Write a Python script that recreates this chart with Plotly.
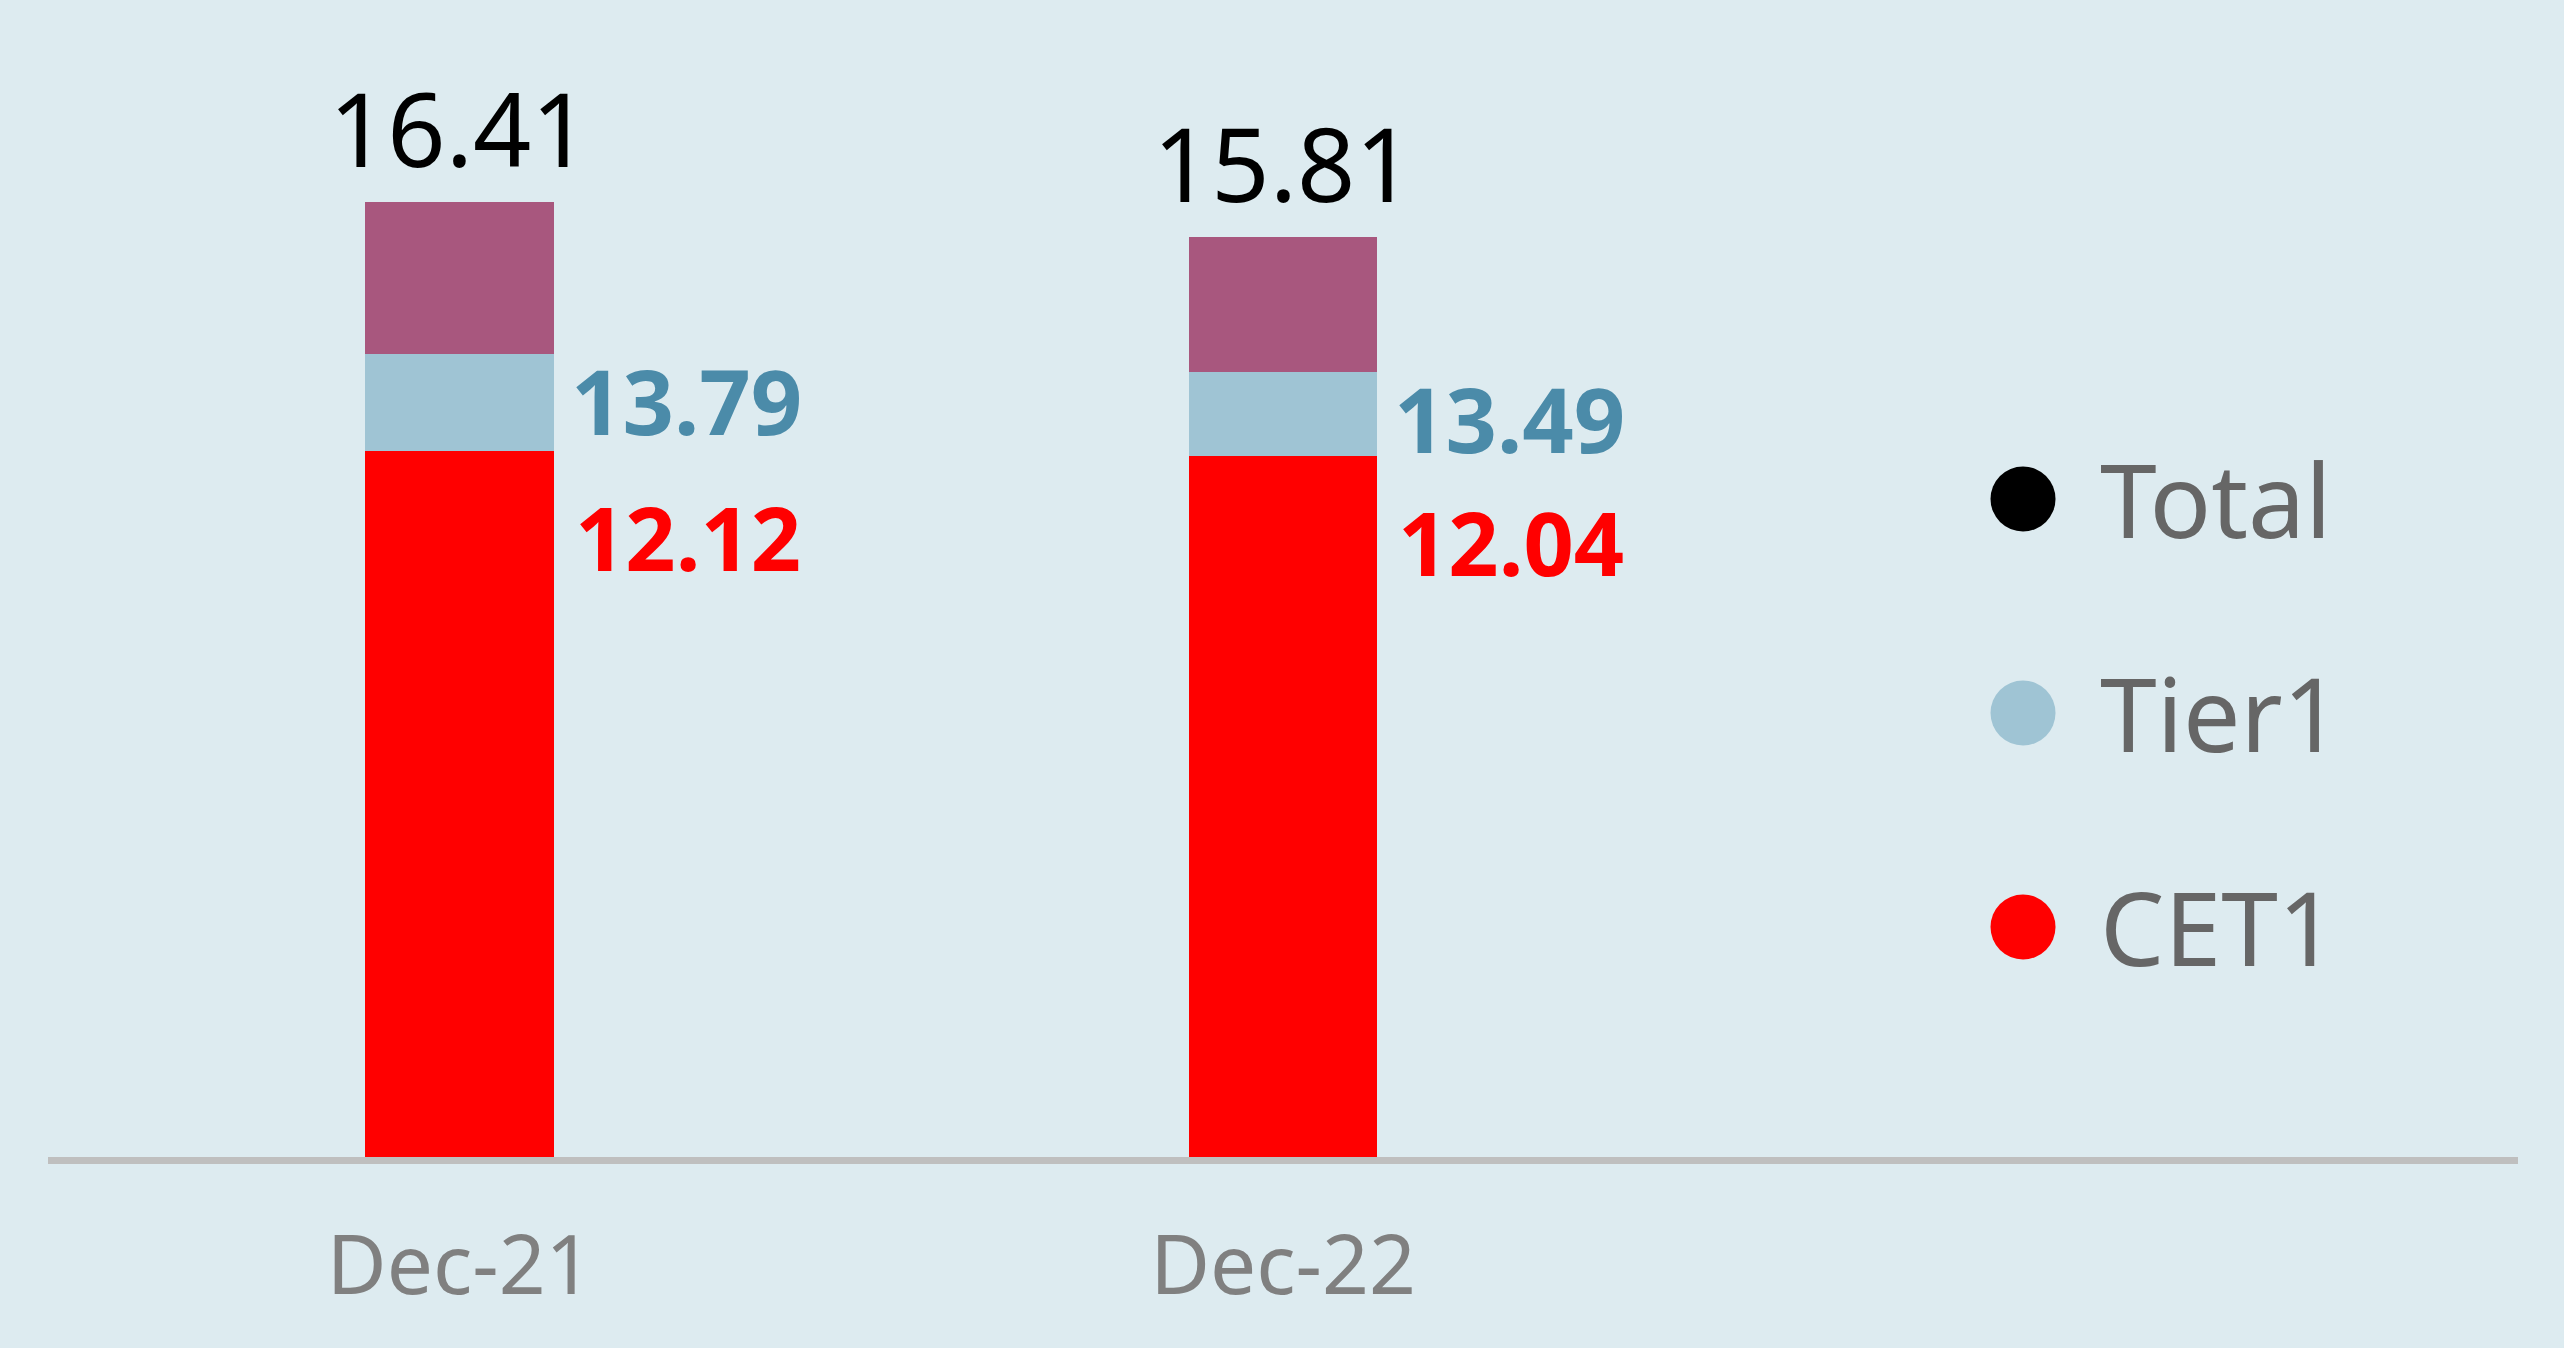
import plotly.graph_objects as go

# ---- data ----
categories = ["Dec-21", "Dec-22"]
cet1 = [12.12, 12.04]
tier1 = [13.79, 13.49]
total = [16.41, 15.81]
series_names = ["Total", "Tier1", "CET1"]

# ---- style ----
BG = "#ddebf0"
C_TOTAL = "#a8577e"
C_TIER1 = "#9fc4d4"
C_CET1 = "#ff0000"
C_TIER1_TXT = "#4b8ba9"
FONT = "Noto Sans"
BAR_W = 0.229

tier1_seg = [t - c for t, c in zip(tier1, cet1)]
total_seg = [t - t1 for t, t1 in zip(total, tier1)]

fig = go.Figure()
fig.add_bar(x=categories, y=cet1, marker_color=C_CET1, width=BAR_W, name="CET1",
            marker_line_width=0, showlegend=False, hoverinfo="skip")
fig.add_bar(x=categories, y=tier1_seg, marker_color=C_TIER1, width=BAR_W, name="Tier1",
            marker_line_width=0, showlegend=False, hoverinfo="skip")
fig.add_bar(x=categories, y=total_seg, marker_color=C_TOTAL, width=BAR_W, name="Total",
            marker_line_width=0, showlegend=False, hoverinfo="skip")

annotations = []
for i, cat in enumerate(categories):
    annotations.append(dict(x=cat, y=total[i], text=f"{total[i]:.2f}", showarrow=False,
                            xanchor="center", yanchor="bottom", yshift=3,
                            font=dict(family=FONT, size=102, color="#000000")))
    annotations.append(dict(x=cat, y=tier1[i], text=f"<b>{tier1[i]:.2f}</b>", showarrow=False,
                            xanchor="left", yanchor="middle", xshift=109, yshift=-46,
                            font=dict(family=FONT, size=90, color=C_TIER1_TXT)))
    annotations.append(dict(x=cat, y=cet1[i], text=f"<b>{cet1[i]:.2f}</b>", showarrow=False,
                            xanchor="left", yanchor="middle", xshift=113, yshift=-86,
                            font=dict(family=FONT, size=88, color=C_CET1)))

# ---- custom legend (circles + labels) ----
legend_colors = ["#000000", C_TIER1, C_CET1]
shapes = []
LEG_X = 0.7996
LEG_Y0 = 0.595
LEG_STEP = 0.1935
for k, name in enumerate(series_names):
    yy = LEG_Y0 - k * LEG_STEP
    shapes.append(dict(type="circle", xref="paper", yref="paper", xsizemode="pixel",
                       ysizemode="pixel", xanchor=LEG_X, yanchor=yy,
                       x0=-32.5, x1=32.5, y0=-32.5, y1=32.5,
                       fillcolor=legend_colors[k], line=dict(width=0)))
    annotations.append(dict(xref="paper", yref="paper", x=0.830, y=yy, text=name,
                            showarrow=False, xanchor="left", yanchor="middle",
                            font=dict(family=FONT, size=102, color="#666666")))

fig.update_layout(
    barmode="stack",
    width=2564, height=1348,
    margin=dict(l=48, r=46, t=51, b=191),
    paper_bgcolor=BG, plot_bgcolor=BG,
    showlegend=False,
    annotations=annotations,
    shapes=shapes,
    font=dict(family=FONT),
)
fig.update_xaxes(type="category", range=[-0.5, 2.5], showline=True, linecolor="#bfbfbf",
                 linewidth=7, showgrid=False, zeroline=False, ticks="",
                 tickfont=dict(family=FONT, size=82, color="#808080"), ticklabelstandoff=32)
fig.update_yaxes(range=[0, 19], visible=False, showgrid=False, zeroline=False)

fig.write_html("out.html", config={"displayModeBar": False},
               post_script="document.body.style.margin='0';document.body.style.overflow='hidden';document.body.style.background='" + BG + "';")
